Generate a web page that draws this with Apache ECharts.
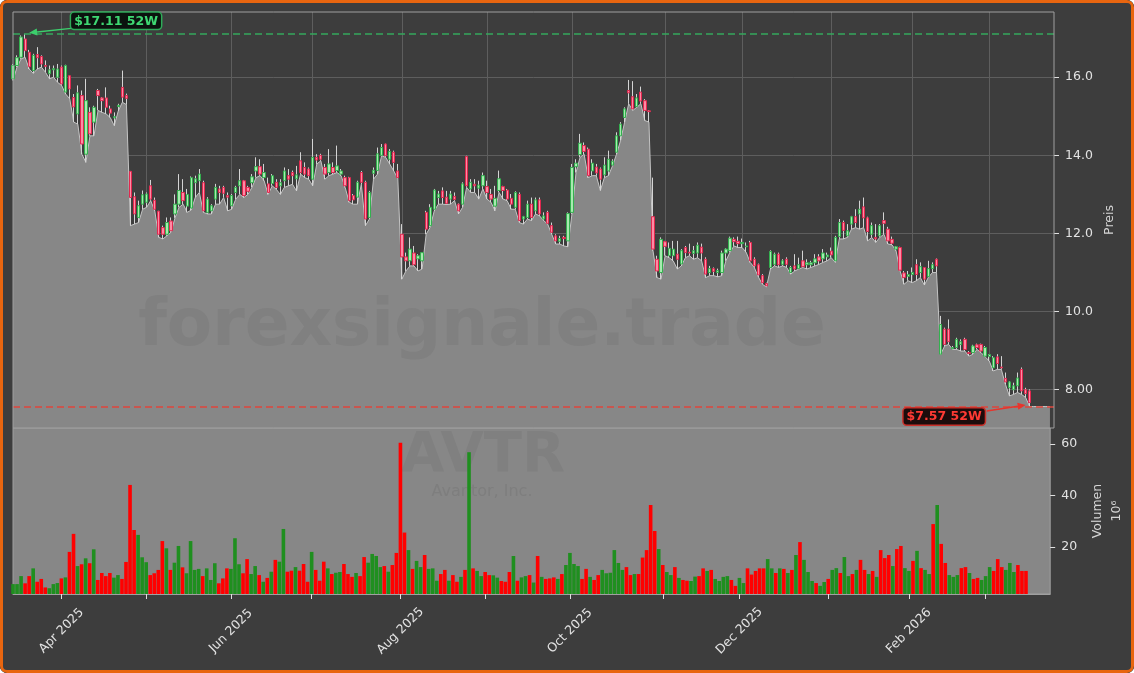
<!DOCTYPE html>
<html><head><meta charset="utf-8">
<script src="https://cdn.jsdelivr.net/npm/echarts@6/dist/echarts.min.js"></script>
<style>
html,body{margin:0;padding:0;background:#ffffff;}
#wrap{position:relative;width:1134px;height:673px;border-radius:7px;overflow:hidden;background:#3d3d3d;}
#chart{position:absolute;left:0;top:0;width:1134px;height:673px;}
#frame{position:absolute;left:0;top:0;width:1134px;height:673px;box-sizing:border-box;border:3px solid #e8650f;border-radius:7px;pointer-events:none;}
</style></head><body>
<div id="wrap"><div id="chart"></div><div id="frame"></div></div>
<script>
// ---- calendar (trading days) ----
const tradingMonths = ['2025-03','2025-04','2025-05','2025-06','2025-07','2025-08','2025-09','2025-10','2025-11','2025-12','2026-01','2026-02','2026-03'];
const tradingDays = [
  [14,17,18,19,20,21,24,25,26,27,28,31],
  [1,2,3,4,7,8,9,10,11,14,15,16,17,21,22,23,24,25,28,29,30],
  [1,2,5,6,7,8,9,12,13,14,15,16,19,20,21,22,23,27,28,29,30],
  [2,3,4,5,6,9,10,11,12,13,16,17,18,20,23,24,25,26,27,30],
  [1,2,3,7,8,9,10,11,14,15,16,17,18,21,22,23,24,25,28,29,30,31],
  [1,4,5,6,7,8,11,12,13,14,15,18,19,20,21,22,25,26,27,28,29],
  [2,3,4,5,8,9,10,11,12,15,16,17,18,19,22,23,24,25,26,29,30],
  [1,2,3,6,7,8,9,10,13,14,15,16,17,20,21,22,23,24,27,28,29,30,31],
  [3,4,5,6,7,10,11,12,13,14,17,18,19,20,21,24,25,26,28],
  [1,2,3,4,5,8,9,10,11,12,15,16,17,18,19,22,23,24,26,29,30,31],
  [2,5,6,7,8,9,12,13,14,15,16,20,21,22,23,26,27,28,29,30],
  [2,3,4,5,6,9,10,11,12,13,17,18,19,20,23,24,25,26,27],
  [2,3,4,5,6,9,10,11,12,13,16]
];
const padDates = ['2026-03-17','2026-03-18','2026-03-19','2026-03-20','2026-03-23','2026-03-24'];
const monthNames = ['Jan','Feb','Mar','Apr','May','Jun','Jul','Aug','Sep','Oct','Nov','Dec'];

// ---- OHLC (USD) ----
const opens = [
15.96,16.30,16.51,16.98,16.64,16.17,16.58,16.53,16.30,16.09,
16.19,16.00,16.26,15.62,16.04,15.48,15.06,15.53,14.03,15.10,
14.85,15.66,15.47,15.47,15.19,14.96,15.25,15.74,15.53,13.59,
12.94,12.41,12.75,12.80,13.22,12.85,12.57,12.15,11.98,12.32,
12.50,12.75,13.05,12.70,12.65,13.30,13.35,13.30,12.54,12.58,
12.88,13.14,13.18,12.97,12.71,13.05,13.22,13.35,13.18,13.30,
13.60,13.71,13.43,13.27,13.28,13.31,13.22,13.35,13.48,13.56,
13.40,13.86,13.69,13.65,13.39,13.95,14.00,13.69,13.56,13.69,
13.61,13.52,13.43,13.43,12.97,12.93,13.56,13.31,12.41,13.54,
13.61,14.00,14.29,13.90,14.08,13.60,11.98,11.40,11.30,11.50,
11.35,11.30,12.54,12.20,12.62,12.92,13.09,12.93,12.88,12.95,
12.75,12.75,13.97,13.14,13.26,13.16,13.22,13.20,13.00,12.70,
13.10,13.20,13.11,12.90,12.67,13.00,12.37,12.41,12.75,12.58,
12.86,12.37,12.54,12.20,11.94,11.80,11.90,11.81,12.54,13.71,
14.02,14.25,14.16,13.60,13.70,13.65,13.50,13.60,13.75,14.08,
14.50,14.97,15.66,15.50,15.25,15.62,15.40,15.14,12.43,11.34,
11.00,11.79,11.43,11.43,11.47,11.22,11.64,11.52,11.49,11.50,
11.65,11.34,11.00,11.10,11.00,11.00,11.50,11.56,11.85,11.80,
11.74,11.66,11.77,11.34,11.20,10.92,10.72,11.13,11.21,11.47,
11.21,11.34,11.00,11.17,11.10,11.30,11.20,11.20,11.25,11.40,
11.35,11.40,11.55,11.30,11.92,12.28,11.94,12.24,12.43,12.50,
12.68,12.40,11.98,11.90,11.94,12.33,12.11,11.85,11.60,11.64,
10.99,10.90,10.95,11.20,11.00,11.13,10.90,11.10,11.34,8.91,
9.55,9.55,9.05,9.08,9.16,9.29,8.95,8.95,9.15,9.16,
8.86,8.85,8.56,8.84,8.58,8.29,8.05,8.00,8.10,8.52,
8.00,7.97];
const highs = [
16.34,16.56,17.07,17.11,16.70,16.60,16.77,16.56,16.43,16.30,
16.30,16.34,16.30,16.32,16.05,15.57,15.79,15.66,15.96,15.23,
15.27,15.70,15.49,15.74,15.27,15.10,15.32,16.17,15.58,13.60,
13.05,12.84,13.10,13.05,13.37,12.92,12.58,12.20,12.41,12.41,
13.00,13.52,13.39,13.14,13.46,13.48,13.65,13.35,12.93,12.75,
13.27,13.22,13.22,13.05,13.01,13.22,13.65,13.37,13.22,13.52,
13.95,13.90,13.78,13.43,13.52,13.39,13.39,13.69,13.65,13.61,
13.73,14.08,13.82,13.69,14.42,14.03,14.04,13.78,14.16,13.82,
14.25,13.65,13.48,13.45,13.01,13.35,13.60,13.35,13.09,13.69,
14.20,14.29,14.30,14.16,14.12,13.78,12.24,11.51,11.90,11.68,
11.47,11.52,12.58,12.75,13.14,13.09,13.18,13.09,13.09,13.05,
12.77,13.31,13.99,13.39,13.39,13.35,13.56,13.35,13.14,13.22,
13.61,13.22,13.14,13.01,13.08,13.05,12.45,12.84,12.92,12.92,
12.92,12.54,12.58,12.28,11.98,11.94,11.94,12.54,13.78,13.90,
14.55,14.33,14.20,13.90,13.78,13.69,13.95,14.12,13.90,14.59,
14.85,15.23,15.93,15.90,15.57,15.76,15.44,15.16,13.43,11.43,
11.90,11.81,11.77,11.81,11.81,11.60,11.68,11.74,11.68,11.77,
11.74,11.39,11.17,11.13,11.10,11.56,11.62,11.92,11.90,11.92,
11.87,11.77,11.81,11.39,11.23,10.96,10.74,11.57,11.51,11.51,
11.34,11.39,11.17,11.47,11.38,11.56,11.34,11.30,11.47,11.47,
11.60,11.51,11.64,11.94,12.37,12.33,12.24,12.45,12.62,12.84,
12.92,12.43,12.28,12.24,12.24,12.54,12.17,11.92,11.68,11.66,
11.04,11.04,11.13,11.34,11.26,11.14,11.30,11.26,11.36,9.89,
9.59,9.80,9.12,9.33,9.29,9.33,8.99,9.15,9.18,9.18,
9.12,8.91,8.86,8.91,8.86,8.44,8.22,8.18,8.44,8.57,
8.05,8.01];
const lows = [
15.92,16.26,16.47,16.51,16.21,16.10,16.21,16.26,16.13,15.96,
16.00,15.87,15.79,15.57,15.45,14.85,14.80,14.03,13.82,14.50,
14.50,15.15,15.10,15.06,14.97,14.76,15.14,15.36,15.30,12.20,
12.24,12.28,12.62,12.67,12.84,12.58,11.90,11.86,11.94,12.03,
12.40,12.67,12.75,12.54,12.60,12.92,13.05,12.54,12.50,12.50,
12.75,12.75,12.92,12.58,12.62,12.88,13.00,12.92,13.00,13.18,
13.43,13.48,13.35,13.00,13.22,13.13,13.00,13.18,13.22,13.26,
13.09,13.52,13.43,13.39,13.22,13.78,13.86,13.39,13.48,13.52,
13.56,13.48,13.18,12.80,12.75,12.75,13.26,12.20,12.37,13.39,
13.52,13.99,13.95,13.78,13.60,13.41,10.83,11.04,11.17,11.17,
11.04,11.09,11.98,12.16,12.58,12.75,12.75,12.74,12.75,12.84,
12.50,12.67,13.18,13.05,13.05,12.88,13.14,12.88,12.80,12.58,
13.05,12.88,12.84,12.62,12.62,12.28,12.24,12.37,12.33,12.50,
12.45,12.33,12.24,11.98,11.73,11.73,11.68,11.66,12.50,13.56,
13.95,14.03,13.43,13.48,13.48,13.10,13.43,13.48,13.73,14.03,
14.38,14.85,15.32,15.15,15.23,15.32,14.89,14.85,11.56,10.87,
10.83,11.43,11.38,11.30,11.09,11.17,11.38,11.43,11.34,11.38,
11.30,10.87,10.92,10.92,10.89,10.92,11.30,11.52,11.68,11.64,
11.64,11.52,11.26,11.13,10.89,10.70,10.63,11.09,11.17,11.13,
11.17,11.13,10.96,11.04,11.09,11.13,11.09,11.13,11.17,11.21,
11.26,11.30,11.38,11.26,11.86,11.86,11.90,12.11,12.15,12.11,
12.15,11.81,11.90,11.77,11.90,11.98,11.73,11.71,11.56,11.04,
10.70,10.79,10.74,10.79,10.87,10.68,10.88,11.00,11.00,8.90,
9.12,9.16,9.03,9.03,8.99,8.99,8.86,8.91,9.03,8.95,
8.84,8.74,8.48,8.52,8.52,8.14,7.84,7.88,7.93,7.88,
7.80,7.57];
const closes = [
16.30,16.50,17.03,16.68,16.27,16.56,16.50,16.34,16.28,16.19,
16.22,16.21,15.83,16.30,15.70,15.24,15.60,14.29,15.40,14.55,
15.23,15.53,15.40,15.23,15.08,14.99,15.28,15.49,15.46,12.92,
12.50,12.71,12.99,13.01,12.88,12.62,11.98,11.98,12.28,12.07,
12.75,13.10,12.84,13.00,13.43,13.40,13.52,12.58,12.88,12.71,
13.18,13.05,13.03,12.93,12.97,13.18,13.35,12.97,13.08,13.45,
13.71,13.52,13.56,13.05,13.48,13.18,13.30,13.60,13.39,13.48,
13.50,13.56,13.52,13.48,13.95,13.88,13.90,13.52,13.78,13.56,
13.73,13.60,13.22,12.84,12.86,13.31,13.31,12.37,13.05,13.62,
14.04,14.20,13.99,14.10,13.82,13.43,11.40,11.30,11.60,11.20,
11.43,11.51,12.11,12.67,13.11,13.01,12.92,12.77,13.01,12.87,
12.58,13.27,13.22,13.31,13.22,13.24,13.48,13.05,12.88,12.90,
13.40,13.10,12.88,12.75,13.05,12.33,12.43,12.75,12.41,12.86,
12.50,12.45,12.26,12.03,11.81,11.87,11.87,12.51,13.69,13.80,
14.31,14.10,13.48,13.80,13.55,13.39,13.75,13.90,13.85,14.50,
14.80,15.19,15.60,15.19,15.47,15.39,15.15,15.12,11.60,11.04,
11.85,11.67,11.62,11.60,11.34,11.56,11.51,11.50,11.56,11.70,
11.50,10.96,11.10,11.03,11.05,11.50,11.60,11.88,11.79,11.74,
11.77,11.68,11.30,11.17,10.94,10.74,10.66,11.54,11.47,11.20,
11.30,11.21,11.13,11.09,11.20,11.15,11.25,11.25,11.35,11.30,
11.50,11.45,11.45,11.90,12.28,12.08,12.07,12.43,12.28,12.62,
12.40,12.05,12.20,11.86,12.20,12.26,11.81,11.75,11.66,11.06,
10.87,10.95,11.00,10.95,11.15,10.83,11.10,11.20,11.17,9.67,
9.16,9.23,9.08,9.29,9.23,9.03,8.93,9.12,9.08,8.99,
9.08,8.90,8.82,8.67,8.56,8.20,8.20,8.10,8.30,7.97,
7.90,7.67];
// area tail after last session (flat at the last low)
const areaTail = [7.57,7.57,7.57,7.57,7.57];

// ---- volume (millions) ----
const volumes = [
5.6,5.6,8.7,5.9,8.7,11.7,6.5,7.6,4.3,4.0,
5.6,6.0,7.8,8.2,18.1,25.1,12.6,13.3,15.6,13.7,
19.1,7.2,9.9,8.7,9.9,8.1,9.1,7.6,14.2,44.1,
26.6,24.7,16.0,14.1,9.1,9.8,11.1,22.3,19.5,11.1,
13.9,20.4,12.1,9.8,22.3,11.1,11.5,8.7,11.7,7.2,
13.7,5.9,7.8,11.7,11.5,23.4,13.3,9.8,15.3,9.5,
12.6,9.1,6.5,8.0,10.4,15.0,14.3,27.0,10.4,10.8,
12.2,10.8,13.4,6.5,18.1,11.1,6.9,14.3,11.7,9.5,
10.0,10.3,13.4,9.5,8.4,9.9,8.7,16.1,13.9,17.3,
16.5,12.2,12.6,10.4,13.0,17.7,60.5,25.6,18.8,11.5,
14.6,12.2,16.9,11.5,11.7,6.9,9.5,11.1,6.9,9.1,
6.5,8.4,11.1,56.8,11.7,10.7,8.7,10.3,9.1,9.0,
8.1,6.8,6.5,10.3,16.5,6.9,8.2,8.7,9.1,6.2,
16.5,8.4,7.6,7.8,8.2,7.6,9.5,13.0,17.7,13.4,
12.6,7.6,11.5,8.4,7.2,9.1,11.1,9.8,10.0,18.8,
13.8,11.1,12.2,9.1,9.5,9.5,15.9,18.8,36.3,26.2,
19.2,13.0,10.3,9.1,12.2,8.0,7.2,6.9,6.8,8.5,
8.7,11.7,10.7,11.1,7.6,6.8,8.4,8.7,7.2,4.9,
8.0,6.0,11.7,9.3,10.7,11.7,11.7,15.3,11.7,9.9,
11.7,11.5,9.9,11.1,16.9,21.9,15.0,10.3,6.8,6.0,
4.9,6.4,7.6,11.1,11.8,9.9,16.1,8.7,9.5,11.1,
15.0,11.1,9.5,10.7,8.4,18.8,15.7,16.9,12.6,19.2,
20.4,11.8,10.7,14.6,18.5,11.8,11.1,9.5,28.9,36.3,
21.2,13.8,9.1,8.4,9.1,11.8,12.2,9.9,7.6,8.0,
7.2,8.7,12.2,10.7,15.3,12.2,11.1,13.8,10.3,13.0,
10.7,10.7];

// ---- axis ticks ----
const priceTicks = [8, 10, 12, 14, 16];
const volumeTicks = [20, 40, 60];
const priceRange = [7.02, 17.67];
const volumeRange = [1.75, 66.2];

// ---- texts ----
const watermark = 'forexsignale.trade';
const tickerText = 'AVTR';
const companyText = 'Avantor, Inc.';

// ===== build =====
const dates = [];
tradingMonths.forEach((m, k) => tradingDays[k].forEach(d => dates.push(m + '-' + String(d).padStart(2, '0'))));
const cats = dates.concat(padDates);
const monthStart = new Set(), labelStart = new Set();
for (let i = 1; i < dates.length; i++) {
  if (dates[i].slice(0, 7) !== dates[i - 1].slice(0, 7)) {
    monthStart.add(i);
    if (+dates[i].slice(5, 7) % 2 === 0) labelStart.add(i);
  }
}
const wickData = opens.map((o, i) => [o, closes[i], lows[i], highs[i]]);
const bodyData = opens.map((o, i) => [o, closes[i], Math.min(o, closes[i]), Math.max(o, closes[i])]);
const UP = '#1f8f1f', DOWN = '#ff0000';
const volData = volumes.map((v, i) => ({ value: v, itemStyle: { color: closes[i] >= opens[i] ? UP : DOWN } }));
let hiIdx = 0, loIdx = 0;
highs.forEach((h, i) => { if (h > highs[hiIdx]) hiIdx = i; });
lows.forEach((l, i) => { if (l < lows[loIdx]) loIdx = i; });
const hiVal = highs[hiIdx], loVal = lows[loIdx];

const FONT = '"DejaVu Sans", sans-serif';
const GL = 13, GR = 80;
const chart = echarts.init(document.getElementById('chart'), null, { renderer: 'canvas' });
chart.setOption({
  backgroundColor: '#3d3d3d',
  animation: false,
  textStyle: { fontFamily: FONT },
  grid: [
    { left: GL, right: GR, top: 12, height: 416, show: true, z: 10, backgroundColor: 'transparent', borderColor: '#a0a0a0', borderWidth: 1 },
    { left: GL, right: GR, top: 428, height: 166, show: true, backgroundColor: '#878787', borderColor: '#a0a0a0', borderWidth: 1 }
  ],
  xAxis: [
    { type: 'category', gridIndex: 0, data: cats, boundaryGap: false,
      axisLine: { show: false }, axisTick: { show: false }, axisLabel: { show: false },
      splitLine: { show: true, interval: (i) => monthStart.has(i), lineStyle: { color: '#5e5e5e', width: 1 } } },
    { type: 'category', gridIndex: 1, data: cats, boundaryGap: false,
      axisLine: { show: true, lineStyle: { color: '#a0a0a0' } },
      axisTick: { show: true, interval: (i) => monthStart.has(i), length: 5, lineStyle: { color: '#e0e0e0' } },
      axisLabel: { interval: (i) => labelStart.has(i), rotate: 45, align: 'center', verticalAlign: 'middle', margin: 37,
        color: '#e2e2e2', fontSize: 12.5, fontFamily: FONT,
        formatter: (v) => monthNames[+v.slice(5, 7) - 1] + ' ' + v.slice(0, 4) },
      splitLine: { show: false } }
  ],
  yAxis: [
    { type: 'value', gridIndex: 0, position: 'right', min: priceRange[0], max: priceRange[1],
      axisLine: { show: false },
      axisTick: { show: true, length: 5, customValues: priceTicks, lineStyle: { color: '#e0e0e0' } },
      axisLabel: { customValues: priceTicks, formatter: (v) => Number(v).toPrecision(3), color: '#e2e2e2', fontSize: 12.5, margin: 11, fontFamily: FONT },
      splitLine: { show: true, lineStyle: { color: '#5e5e5e', width: 1 } },
      name: 'Preis', nameLocation: 'middle', nameRotate: 90, nameGap: 44,
      nameTextStyle: { color: '#d6d6d6', fontSize: 12.5, fontFamily: FONT } },
    { type: 'value', gridIndex: 1, position: 'right', min: volumeRange[0], max: volumeRange[1],
      axisLine: { show: false },
      axisTick: { show: true, length: 5, customValues: volumeTicks, lineStyle: { color: '#e0e0e0' } },
      axisLabel: { customValues: volumeTicks, color: '#e2e2e2', fontSize: 12.5, margin: 11, fontFamily: FONT },
      splitLine: { show: false },
      name: 'Volumen\n10⁶', nameLocation: 'middle', nameRotate: 90, nameGap: 29,
      nameTextStyle: { color: '#d6d6d6', fontSize: 12.5, lineHeight: 19, fontFamily: FONT } }
  ],
  series: [
    { type: 'line', name: 'area', xAxisIndex: 0, yAxisIndex: 0, data: lows.concat(areaTail),
      symbol: 'none', z: 1, lineStyle: { color: '#c4c4c4', width: 1 },
      areaStyle: { color: '#878787', opacity: 1, origin: 'start' },
      markLine: { silent: true, symbol: 'none', label: { show: false }, animation: false,
        data: [
          { yAxis: hiVal, lineStyle: { color: '#35a85c', type: [7, 4], width: 1.5 } },
          { yAxis: loVal, lineStyle: { color: '#e0463c', type: [7, 4], width: 1.5 } }
        ] } },
    { type: 'candlestick', name: 'wick', xAxisIndex: 0, yAxisIndex: 0, data: wickData, barWidth: 1, z: 3,
      itemStyle: { color: '#d4d4d4', color0: '#d4d4d4', borderColor: '#d4d4d4', borderColor0: '#d4d4d4', borderWidth: 1 } },
    { type: 'candlestick', name: 'body', xAxisIndex: 0, yAxisIndex: 0, data: bodyData, barWidth: 2.8, z: 4,
      itemStyle: { color: '#a8eab0', color0: '#ff8aa4', borderColor: '#34b04f', borderColor0: '#e0284f', borderWidth: 1 } },
    { type: 'bar', name: 'vol', xAxisIndex: 1, yAxisIndex: 1, data: volData, barWidth: 3.6, z: 5 }
  ]
});

// annotations positioned through the chart's own scales
const P = chart.convertToPixel({ xAxisIndex: 0, yAxisIndex: 0 }, [hiIdx, hiVal]);
const Q = chart.convertToPixel({ xAxisIndex: 0, yAxisIndex: 0 }, [loIdx, loVal]);
function arrow(tail, tip, color) {
  const dx = tip[0] - tail[0], dy = tip[1] - tail[1], len = Math.hypot(dx, dy);
  const ux = dx / len, uy = dy / len, hl = 8, hw = 3.5;
  const b = [tip[0] - ux * hl, tip[1] - uy * hl];
  return [
    { type: 'line', z: 20, shape: { x1: tail[0], y1: tail[1], x2: b[0], y2: b[1] }, style: { stroke: color, lineWidth: 1.5 } },
    { type: 'polygon', z: 20, shape: { points: [tip, [b[0] - uy * hw, b[1] + ux * hw], [b[0] + uy * hw, b[1] - ux * hw]] }, style: { fill: color } }
  ];
}
const graphics = [
  { type: 'text', z: 2, x: 482, y: 328, silent: true,
    style: { text: watermark, font: 'bold 66px "DejaVu Sans"', fill: '#808080', align: 'center', verticalAlign: 'middle', textAlign: 'center', textVerticalAlign: 'middle' } },
  { type: 'text', z: 2, x: 483, y: 456, silent: true,
    style: { text: tickerText, font: 'bold 56px "DejaVu Sans"', fill: '#808080', align: 'center', verticalAlign: 'middle', textAlign: 'center', textVerticalAlign: 'middle' } },
  { type: 'text', z: 2, x: 482, y: 492, silent: true,
    style: { text: companyText, font: '16px "DejaVu Sans"', fill: '#7e7e7e', align: 'center', verticalAlign: 'middle', textAlign: 'center', textVerticalAlign: 'middle' } },
  ...arrow([P[0] + 46, P[1] - 5.5], [P[0] + 4, P[1] - 1], '#3ccf6c'),
  { type: 'text', z: 21, x: P[0] + 46, y: P[1] - 21, silent: true,
    style: { text: '$' + hiVal.toFixed(2) + ' 52W', font: 'bold 12.5px "DejaVu Sans"', fill: '#3fd873',
      backgroundColor: '#0b130e', borderColor: '#2eaa58', borderWidth: 1.5, borderRadius: 3, padding: [2, 3, 1, 3],
      align: 'left', verticalAlign: 'top', textAlign: 'left', textVerticalAlign: 'top' } },
  ...arrow([Q[0] - 43, Q[1] + 4.5], [Q[0] - 4, Q[1] - 1.5], '#e8342c'),
  { type: 'text', z: 21, x: Q[0] - 45, y: Q[1] + 2, silent: true,
    style: { text: '$' + loVal.toFixed(2) + ' 52W', font: 'bold 12.5px "DejaVu Sans"', fill: '#ff3a34',
      backgroundColor: '#1c0c0c', borderColor: '#c8302a', borderWidth: 1.5, borderRadius: 3, padding: [2, 3, 1, 3],
      align: 'right', verticalAlign: 'top', textAlign: 'right', textVerticalAlign: 'top' } }
];
chart.setOption({ graphic: graphics });
</script>
</body></html>
